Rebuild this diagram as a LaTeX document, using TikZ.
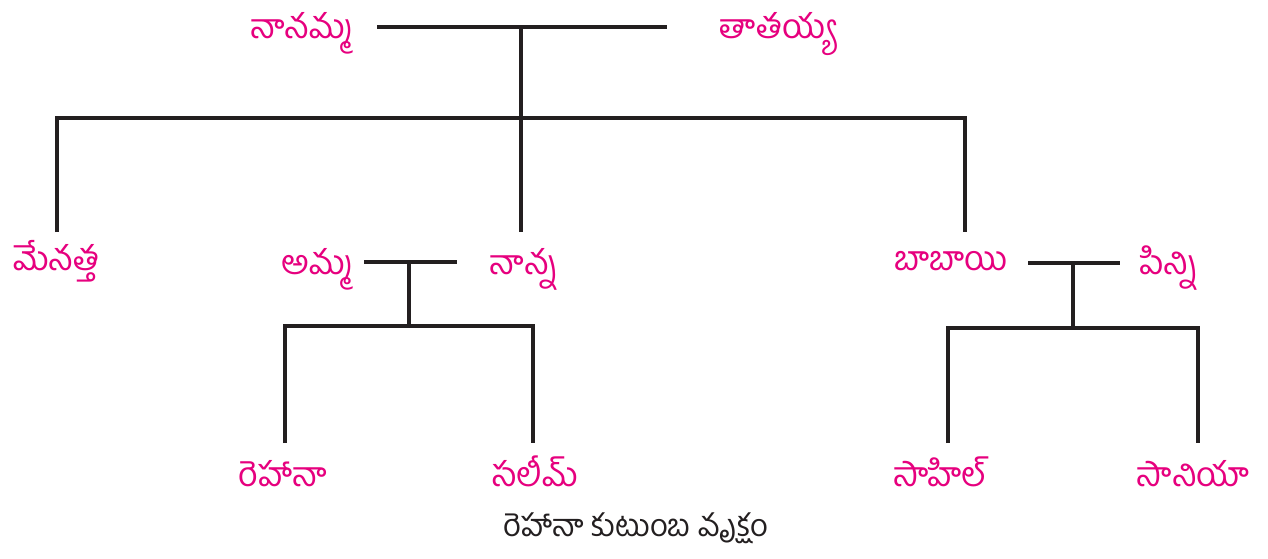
\documentclass[tikz,border=0pt]{standalone}
\usepackage{fontspec}
\newfontfamily\telfont[Script=Telugu]{Hind Guntur}
\definecolor{tpink}{HTML}{E6007E}
\definecolor{tline}{HTML}{231F20}
\begin{document}
\begin{tikzpicture}[x=1pt,y=-1pt,
  lbl/.style={font=\telfont\fontsize{34}{40}\selectfont, text=tpink, inner sep=0pt, anchor=base},
  captext/.style={font=\telfont\fontsize{31}{36}\selectfont, text=tline, inner sep=0pt, anchor=base},
  tree/.style={line width=4pt, tline}]
\useasboundingbox (0,0) rectangle (1268,558);
% labels
\node[lbl] (nanamma) at (302,38) {నానమ్మ};
\node[lbl] (tatayya) at (777,38) {తాతయ్య};
\node[lbl] (menatta) at (56,270) {మేనత్త};
\node[lbl] (amma) at (318,274) {అమ్మ};
\node[lbl] (nanna) at (524,274) {నాన్న};
\node[lbl] (babai) at (951,270) {బాబాయి};
\node[lbl] (pinni) at (1169,274) {పిన్ని};
\node[lbl] (rehana) at (283,486) {రెహానా};
\node[lbl] (salim) at (535,486) {సలీమ్};
\node[lbl] (sahil) at (940,486) {సాహిల్};
\node[lbl] (saniya) at (1193,486) {సానియా};
\node[captext] (caption) at (636,536) {రెహానా కుటుంబ వృక్షం};
% junction coordinates
\coordinate (c1l) at (377,27); \coordinate (c1r) at (667,27);
\coordinate (c1m) at (521,27); \coordinate (c1d) at (521,118);
\coordinate (b1l) at (57,118); \coordinate (b1r) at (965,118);
\coordinate (e1) at (57,232); \coordinate (e2) at (521,232); \coordinate (e3) at (965,232);
\coordinate (c2l) at (364,262); \coordinate (c2r) at (457,262);
\coordinate (c2m) at (409,262); \coordinate (c2d) at (409,326);
\coordinate (b2l) at (285,326); \coordinate (b2r) at (533,326);
\coordinate (f1) at (285,443); \coordinate (f2) at (533,443);
\coordinate (c3l) at (1028,263); \coordinate (c3r) at (1120,263);
\coordinate (c3m) at (1073,263); \coordinate (c3d) at (1073,328);
\coordinate (b3l) at (948,328); \coordinate (b3r) at (1198,328);
\coordinate (g1) at (948,443); \coordinate (g2) at (1198,443);
% tree lines
\draw[tree] (c1l) -- (c1r);
\draw[tree] (c1m) -- (c1d);
\draw[tree] (e1) -- (b1l) -- (b1r) -- (e3);
\draw[tree] (c1d) -- (e2);
\draw[tree] (c2l) -- (c2r);
\draw[tree] (c2m) -- (c2d);
\draw[tree] (f1) -- (b2l) -- (b2r) -- (f2);
\draw[tree] (c3l) -- (c3r);
\draw[tree] (c3m) -- (c3d);
\draw[tree] (g1) -- (b3l) -- (b3r) -- (g2);
\end{tikzpicture}
\end{document}
